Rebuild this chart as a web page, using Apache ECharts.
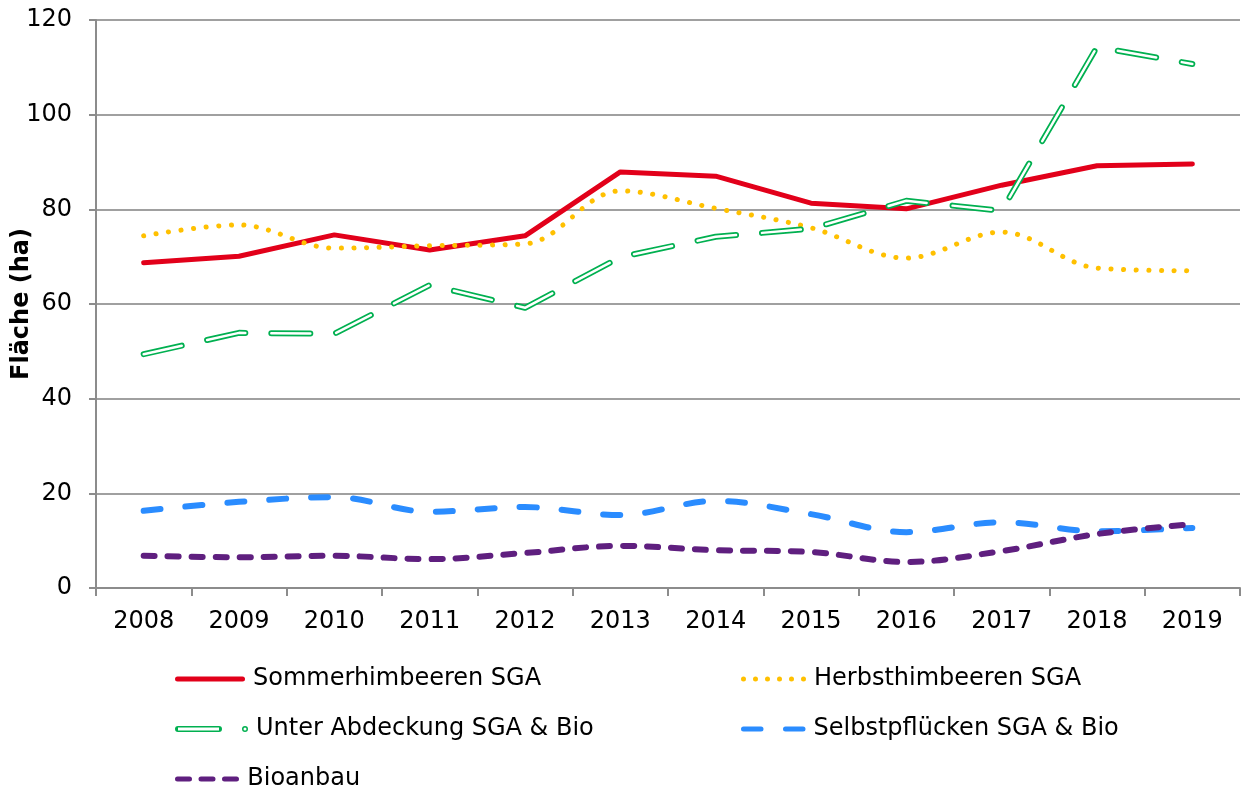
<!DOCTYPE html>
<html>
<head>
    <meta http-equiv="Content-Type" content="text/html; charset=UTF-8">
    <title>Himbeeren Fläche</title>
    <script type="text/javascript" src="https://cdn.jsdelivr.net/npm/echarts@6/dist/echarts.min.js"></script>
    <style>
        html, body { margin: 0; padding: 0; background: #fff; }
    </style>
</head>
<body>
<div id="main" style="width: 1241px;height:792px;"></div>
<script type="text/javascript">
    // Jahre (X-Achse)
    var years = ['2008', '2009', '2010', '2011', '2012', '2013', '2014', '2015', '2016', '2017', '2018', '2019'];
    // Fläche in ha
    var sommer    = [68.7, 70.1, 74.6, 71.4, 74.4, 87.9, 87.0, 81.3, 80.1, 85.1, 89.2, 89.6];
    var herbst    = [74.4, 76.7, 71.8, 72.3, 72.7, 83.9, 80.2, 76.1, 69.7, 75.2, 67.6, 67.0];
    var abdeckung = [49.4, 53.9, 53.7, 64.0, 59.2, 69.9, 74.2, 75.9, 81.8, 79.7, 114.3, 110.7];
    var selbst    = [16.3, 18.2, 19.2, 16.1, 17.1, 15.4, 18.4, 15.6, 11.8, 13.9, 12.0, 12.7];
    var bio       = [6.8, 6.5, 6.8, 6.1, 7.4, 8.9, 8.0, 7.6, 5.5, 7.8, 11.4, 13.5];

    var names = ['Sommerhimbeeren SGA', 'Herbsthimbeeren SGA', 'Unter Abdeckung SGA & Bio',
                 'Selbstpflücken SGA & Bio', 'Bioanbau'];
    var colors = ['#e2001a', '#ffc000', '#00b050', '#2a8cff', '#5f1f7f'];

    var font = 'DejaVu Sans, Verdana, sans-serif';

    // Legenden-Symbole
    var iconRed = 'path://M2.5,0 H67.5 A2.5,2.5 0 0 1 67.5,5 H2.5 A2.5,2.5 0 0 1 2.5,0 Z';
    var dots = '';
    for (var i = 0; i < 6; i++) {
        var cx = i * 12;
        dots += 'M' + cx + ',2.5 a2.5,2.5 0 1 0 5,0 a2.5,2.5 0 1 0 -5,0 ';
    }
    var iconOrange = 'path://' + dots;
    var iconGreen = 'path://M3,0 H44 A3,3 0 0 1 44,6 H3 A3,3 0 0 1 3,0 Z ' +
        'M3,1.5 L3,4.5 L44,4.5 L44,1.5 Z ' +
        'M67,3 a3,3 0 1 1 6,0 a3,3 0 1 1 -6,0 Z ' +
        'M68.5,3 a1.5,1.5 0 1 0 3,0 a1.5,1.5 0 1 0 -3,0 Z';
    var iconBlue = 'path://M2.5,0 H20 A2.5,2.5 0 0 1 20,5 H2.5 A2.5,2.5 0 0 1 2.5,0 Z ' +
        'M44.5,0 H62 A2.5,2.5 0 0 1 62,5 H44.5 A2.5,2.5 0 0 1 44.5,0 Z';
    var purple = '';
    for (var j = 0; j < 3; j++) {
        var x0 = j * 23.5;
        purple += 'M' + (x0 + 2.5) + ',0 H' + (x0 + 14.5) + ' A2.5,2.5 0 0 1 ' + (x0 + 14.5) + ',5 H' +
            (x0 + 2.5) + ' A2.5,2.5 0 0 1 ' + (x0 + 2.5) + ',0 Z ';
    }
    var iconPurple = 'path://' + purple;

    function legendItem(name, icon, left, top, w, h) {
        return {
            data: [{name: name, icon: icon}],
            left: left,
            top: top,
            padding: 0,
            itemWidth: w,
            itemHeight: h,
            selectedMode: false,
            textStyle: {
                fontFamily: font,
                fontSize: 24,
                color: '#000',
                lineHeight: 28,
                padding: [0, 0, 0, 3]
            }
        };
    }

    var myChart = echarts.init(document.getElementById('main'));
    myChart.setOption({
        animation: false,
        backgroundColor: '#fff',
        grid: {left: 96, right: 1, top: 20, bottom: 204, outerBoundsMode: 'none'},
        legend: [
            legendItem(names[0], iconRed, 175, 665, 70, 5),
            legendItem(names[1], iconOrange, 741, 665, 65, 5),
            legendItem(names[2], iconGreen, 175, 715, 73, 6),
            legendItem(names[3], iconBlue, 741, 715, 64.5, 5),
            legendItem(names[4], iconPurple, 175, 765, 64.5, 5)
        ],
        xAxis: {
            type: 'category',
            data: years,
            boundaryGap: true,
            axisLine: {lineStyle: {color: '#8c8c8c', width: 2}},
            axisTick: {show: true, length: 8, lineStyle: {color: '#8c8c8c', width: 2}},
            axisLabel: {fontFamily: font, fontSize: 24, color: '#000', margin: 22}
        },
        yAxis: {
            type: 'value',
            min: 0,
            max: 120,
            interval: 20,
            name: 'Fläche (ha)',
            nameLocation: 'middle',
            nameGap: 62,
            nameMoveOverlap: false,
            nameTextStyle: {fontFamily: font, fontSize: 24, fontWeight: 'bold', color: '#000'},
            axisLine: {show: true, lineStyle: {color: '#8c8c8c', width: 2}},
            axisTick: {show: true, length: 7, lineStyle: {color: '#8c8c8c', width: 2}},
            axisLabel: {fontFamily: font, fontSize: 24, color: '#000', margin: 24},
            splitLine: {lineStyle: {color: '#a0a0a0', width: 2}}
        },
        series: [
            {
                name: names[0], type: 'line', data: sommer, symbol: 'none',
                itemStyle: {color: colors[0]},
                lineStyle: {color: colors[0], width: 5, cap: 'round', join: 'round'}
            },
            {
                name: names[1], type: 'line', data: herbst, symbol: 'none', smooth: 0.35,
                itemStyle: {color: colors[1]},
                lineStyle: {color: colors[1], width: 5, type: [0.1, 12.5], cap: 'round'}
            },
            {
                name: names[2], type: 'line', data: abdeckung, symbol: 'none',
                itemStyle: {color: colors[2]},
                lineStyle: {color: colors[2], width: 6, type: [39, 26], cap: 'round', join: 'round'}
            },
            {
                // weisse Innenlinie fuer die Doppellinie
                name: 'abdeckung_innen', type: 'line', data: abdeckung, symbol: 'none',
                itemStyle: {color: '#fff'},
                lineStyle: {color: '#fff', width: 2.5, type: [39, 26], cap: 'round', join: 'round'}
            },
            {
                name: names[3], type: 'line', data: selbst, symbol: 'none', smooth: 0.35,
                itemStyle: {color: colors[3]},
                lineStyle: {color: colors[3], width: 6, type: [17, 25], cap: 'round'}
            },
            {
                name: names[4], type: 'line', data: bio, symbol: 'none', smooth: 0.35,
                itemStyle: {color: colors[4]},
                lineStyle: {color: colors[4], width: 6, type: [11, 13], cap: 'round'}
            }
        ]
    });
</script>
</body>
</html>
